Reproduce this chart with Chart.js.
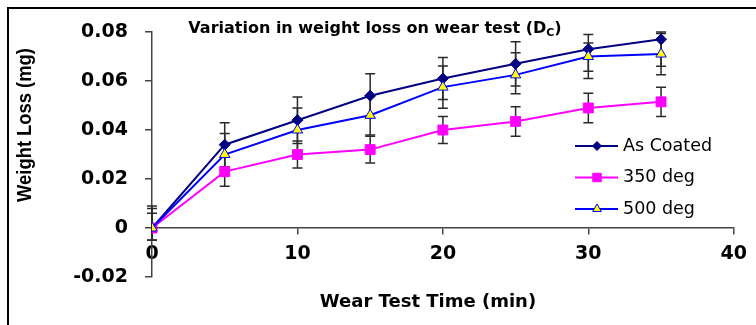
<!DOCTYPE html>
<html>
<head>
<meta charset="utf-8">
<script src="https://cdn.jsdelivr.net/npm/chart.js@4.4.1/dist/chart.umd.min.js"></script>
<style>
  html, body { margin: 0; padding: 0; background: #fff; }
  #wrap { position: relative; width: 756px; height: 325px; overflow: hidden; background: #fff; }
  #plot { position: absolute; left: 0; top: 0; }
  #frame { position: absolute; left: 7px; top: 7px; width: 800px; height: 400px; border: 2px solid #000; pointer-events: none; }
</style>
</head>
<body>
<div id="wrap">
  <canvas id="plot" width="756" height="325"></canvas>
  <div id="frame"></div>
</div>
<script>
// wear test time (min)
const wearTime = [0, 5, 10, 15, 20, 25, 30, 35];

// weight loss (mg) and error bar sizes
const asCoated = [0, 0.034, 0.044, 0.054, 0.061, 0.067, 0.073, 0.077];
const asCoatedErrUp = [0.009, 0.009, 0.0095, 0.009, 0.0086, 0.009, 0.006, 0.003];
const asCoatedErrDown = [0.005, 0.009, 0.0095, 0.009, 0.0086, 0.009, 0.009, 0.011];

const deg350 = [0, 0.023, 0.030, 0.032, 0.040, 0.0435, 0.049, 0.0515];
const deg350ErrUp = [0.006, 0.006, 0.0055, 0.0055, 0.0055, 0.006, 0.006, 0.006];
const deg350ErrDown = [0.005, 0.006, 0.0055, 0.0055, 0.0055, 0.006, 0.006, 0.006];

const deg500 = [0, 0.030, 0.040, 0.046, 0.0575, 0.0625, 0.070, 0.071];
const deg500ErrUp = [0.008, 0.0086, 0.009, 0.008, 0.0086, 0.009, 0.0055, 0.0084];
const deg500ErrDown = [0.005, 0.0086, 0.009, 0.008, 0.0086, 0.0077, 0.009, 0.0084];

const xTicks = [0, 10, 20, 30, 40];
const yTicks = [-0.02, 0, 0.02, 0.04, 0.06, 0.08];
const yTickLabels = ['-0.02', '0', '0.02', '0.04', '0.06', '0.08'];

const chartTitle = 'Variation in weight loss on wear test (D';
const chartTitleSub = 'C';
const xTitle = 'Wear Test Time (min)';
const yTitle = 'Weight Loss (mg)';

const toPoints = (ys) => wearTime.map((x, i) => ({ x: x, y: ys[i] }));

// error bars, drawn under the lines
const errorBars = {
    id: 'errorBars',
    beforeDatasetsDraw(chart) {
        const ctx = chart.ctx;
        const xs = chart.scales.x, ys = chart.scales.y;
        ctx.save();
        ctx.strokeStyle = '#2a2a2a';
        ctx.lineWidth = 1.5;
        chart.data.datasets.forEach((ds) => {
            ds.data.forEach((p, i) => {
                const x = xs.getPixelForValue(p.x);
                const top = ys.getPixelForValue(p.y + ds.errUp[i]);
                const bot = ys.getPixelForValue(p.y - ds.errDown[i]);
                ctx.beginPath();
                ctx.moveTo(x, top); ctx.lineTo(x, bot);
                ctx.moveTo(x - 5, top); ctx.lineTo(x + 5, top);
                ctx.moveTo(x - 5, bot); ctx.lineTo(x + 5, bot);
                ctx.stroke();
            });
        });
        ctx.restore();
    }
};

// titles and the legend inside the plot
const texts = {
    id: 'texts',
    afterDraw(chart) {
        const ctx = chart.ctx;
        ctx.save();
        ctx.fillStyle = '#000';

        // chart title with subscript
        ctx.font = 'bold 16px "DejaVu Sans"';
        ctx.textBaseline = 'alphabetic';
        ctx.textAlign = 'left';
        const w1 = ctx.measureText(chartTitle).width;
        ctx.font = 'bold 11px "DejaVu Sans"';
        const w2 = ctx.measureText(chartTitleSub).width;
        ctx.font = 'bold 16px "DejaVu Sans"';
        const w3 = ctx.measureText(')').width;
        let tx = 375 - (w1 + w2 + w3) / 2;
        ctx.fillText(chartTitle, tx, 33);
        ctx.font = 'bold 11px "DejaVu Sans"';
        ctx.fillText(chartTitleSub, tx + w1, 36);
        ctx.font = 'bold 16px "DejaVu Sans"';
        ctx.fillText(')', tx + w1 + w2, 33);

        // x axis title
        ctx.font = 'bold 18px "DejaVu Sans"';
        ctx.textAlign = 'center';
        ctx.fillText(xTitle, 428, 307);

        // y axis title
        ctx.save();
        ctx.translate(31, 125);
        ctx.rotate(-Math.PI / 2);
        ctx.scale(0.875, 1);
        ctx.font = 'bold 21px "Liberation Sans"';
        ctx.textAlign = 'center';
        ctx.fillText(yTitle, 0, 0);
        ctx.restore();

        // legend
        const drawPoint = Chart.helpers && Chart.helpers.drawPoint;
        chart.data.datasets.forEach((ds, i) => {
            const y = 146 + i * 31.5;
            ctx.strokeStyle = ds.borderColor;
            ctx.lineWidth = 2;
            ctx.beginPath();
            ctx.moveTo(575, y); ctx.lineTo(618, y);
            ctx.stroke();
            if (drawPoint) {
                ctx.fillStyle = ds.pointBackgroundColor;
                ctx.strokeStyle = ds.pointBorderColor;
                ctx.lineWidth = 1;
                drawPoint(ctx, { pointStyle: ds.pointStyle, rotation: 0, radius: ds.pointRadius - 1, borderWidth: 1 }, 597, y);
            }
            ctx.fillStyle = '#000';
            ctx.font = '17.5px "DejaVu Sans"';
            ctx.textAlign = 'left';
            ctx.textBaseline = 'middle';
            ctx.fillText(ds.label, 623, y);
        });
        ctx.restore();
    }
};

const axisColor = '#444';

const data = {
    datasets: [{
        label: 'As Coated',
        data: toPoints(asCoated),
        errUp: asCoatedErrUp,
        errDown: asCoatedErrDown,
        borderColor: '#000080',
        backgroundColor: '#000080',
        borderWidth: 2,
        pointStyle: 'rectRot',
        pointRadius: 5.5,
        pointBackgroundColor: '#000080',
        pointBorderColor: '#000080',
        pointBorderWidth: 1,
        order: 3
    }, {
        label: '350 deg',
        data: toPoints(deg350),
        errUp: deg350ErrUp,
        errDown: deg350ErrDown,
        borderColor: '#ff00ff',
        backgroundColor: '#ff00ff',
        borderWidth: 2,
        pointStyle: 'rect',
        pointRadius: 7,
        pointBackgroundColor: '#ff00ff',
        pointBorderColor: '#ff00ff',
        pointBorderWidth: 1,
        order: 2
    }, {
        label: '500 deg',
        data: toPoints(deg500),
        errUp: deg500ErrUp,
        errDown: deg500ErrDown,
        borderColor: '#0000ff',
        backgroundColor: '#ffff00',
        borderWidth: 2,
        pointStyle: 'triangle',
        pointRadius: 6,
        pointBackgroundColor: '#ffff00',
        pointBorderColor: '#0000ff',
        pointBorderWidth: 1,
        order: 1
    }]
};

const config = {
    type: 'line',
    data: data,
    options: {
        responsive: false,
        animation: false,
        layout: { padding: { top: 32, right: 20, bottom: 48, left: 0 } },
        plugins: { legend: { display: false }, tooltip: { enabled: false }, title: { display: false } },
        scales: {
            x: {
                type: 'linear',
                position: { y: 0 },
                min: 0,
                max: 40,
                afterBuildTicks: (s) => { s.ticks = xTicks.map(v => ({ value: v })); },
                ticks: {
                    color: '#000',
                    font: { family: 'DejaVu Sans', weight: 'bold', size: 19 },
                    padding: 9,
                    maxRotation: 0,
                    autoSkip: false
                },
                grid: { drawOnChartArea: false, tickLength: 6, color: axisColor, lineWidth: 1.5 },
                border: { color: axisColor, width: 1.5 }
            },
            y: {
                type: 'linear',
                min: -0.02,
                max: 0.08,
                afterBuildTicks: (s) => { s.ticks = yTicks.map(v => ({ value: v })); },
                afterFit: (s) => { s.width = 152; },
                ticks: {
                    color: '#000',
                    font: { family: 'DejaVu Sans', weight: 'bold', size: 19 },
                    padding: 17,
                    autoSkip: false,
                    callback: (v, i) => yTickLabels[i]
                },
                grid: { drawOnChartArea: false, tickLength: 7, color: axisColor, lineWidth: 1.5 },
                border: { color: axisColor, width: 1.5 }
            }
        }
    },
    plugins: [errorBars, texts]
};

const ctx = document.getElementById('plot').getContext('2d');
const myChart = new Chart(ctx, config);
</script>
</body>
</html>
